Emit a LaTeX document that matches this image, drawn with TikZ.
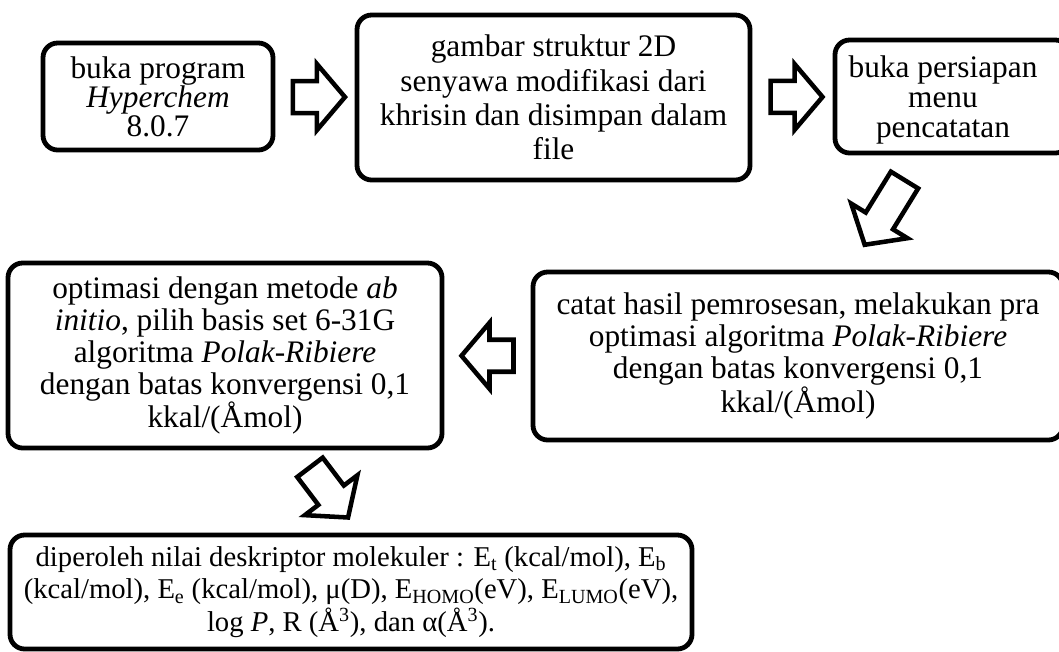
\documentclass[tikz,border=0pt]{standalone}
\usepackage{fontspec}
\setmainfont{Liberation Serif}
\usetikzlibrary{calc}
\tikzset{
  box/.style={draw, line width=3.6pt, rounded corners=11pt, align=center, inner sep=0pt,
    font=\fontsize{23.5}{24}\selectfont},
  label text/.style={align=center, inner sep=0pt, font=\fontsize{23.5}{24}\selectfont},
  arrow len/.store in=\arrowlen, arrow len=52,
  blockarrow/.pic={
    \draw[line width=3.4pt, line join=miter] (-\arrowlen/2,-16) -- ({\arrowlen/2-28},-16) -- ({\arrowlen/2-28},-33) -- ({\arrowlen/2},0) -- ({\arrowlen/2-28},33) -- ({\arrowlen/2-28},16) -- (-\arrowlen/2,16) -- cycle;
  }
}

\begin{document}
\begin{tikzpicture}[x=0.75pt, y=-0.75pt]
\useasboundingbox (0,0) rectangle (1059,651);
% top row
\node[box, minimum width=172.5pt, minimum height=80.25pt, font=\fontsize{23.5}{21.75}\selectfont] (b1) at (158,96.5) {buka program\\\textit{Hyperchem}\\8.0.7};
\node[box, minimum width=294.75pt, minimum height=123.75pt, font=\fontsize{23.5}{25.75}\selectfont] (b2) at (553.5,97.5) {gambar struktur 2D\\senyawa modifikasi dari\\khrisin dan disimpan dalam\\file};
\node[box, minimum width=176.25pt, minimum height=84.75pt] (b3) at (952.5,96.5) {};
\node[label text, font=\fontsize{23.5}{22.5}\selectfont] (t3) at (943,100) {buka persiapan\\menu\\pencatatan};
% middle row
\node[box, minimum width=397.5pt, minimum height=126pt] (b4) at (798,356) {catat hasil pemrosesan, melakukan pra\\optimasi algoritma \textit{Polak-Ribiere}\\dengan batas konvergensi 0,1\\kkal/(Åmol)};
\node[box, minimum width=325.5pt, minimum height=138.75pt] (b5) at (225,355.5) {optimasi dengan metode \textit{ab}\\\textit{initio}, pilih basis set 6-31G\\algoritma \textit{Polak-Ribiere}\\dengan batas konvergensi 0,1\\kkal/(Åmol)};
% bottom
\node[box, minimum width=511.5pt, minimum height=85.5pt, font=\fontsize{21.5}{24.5}\selectfont] (b6) at (351,592) {diperoleh nilai deskriptor molekuler : E\textsubscript{t} (kcal/mol), E\textsubscript{b}\\(kcal/mol), E\textsubscript{e} (kcal/mol), μ(D), E\textsubscript{HOMO}(eV), E\textsubscript{LUMO}(eV),\\log \textit{P}, R (Å\textsuperscript{3}), dan α(Å\textsuperscript{3}).};
% block arrows
\pic at ($(b1.east)!0.55!(b2.west)$) {blockarrow};
\pic at ($(b2.east)!0.55!(b3.west)$) {blockarrow};
\pic[rotate=-121.6, arrow len=76] at ($(b3.south west)+(52,57)$) {blockarrow};
\pic[rotate=180] at ($(b5.east)!0.5!(b4.west)$) {blockarrow};
\pic[rotate=-52.8, arrow len=63] at ($(b5.south)+(104,42)$) {blockarrow};
\end{tikzpicture}
\end{document}
